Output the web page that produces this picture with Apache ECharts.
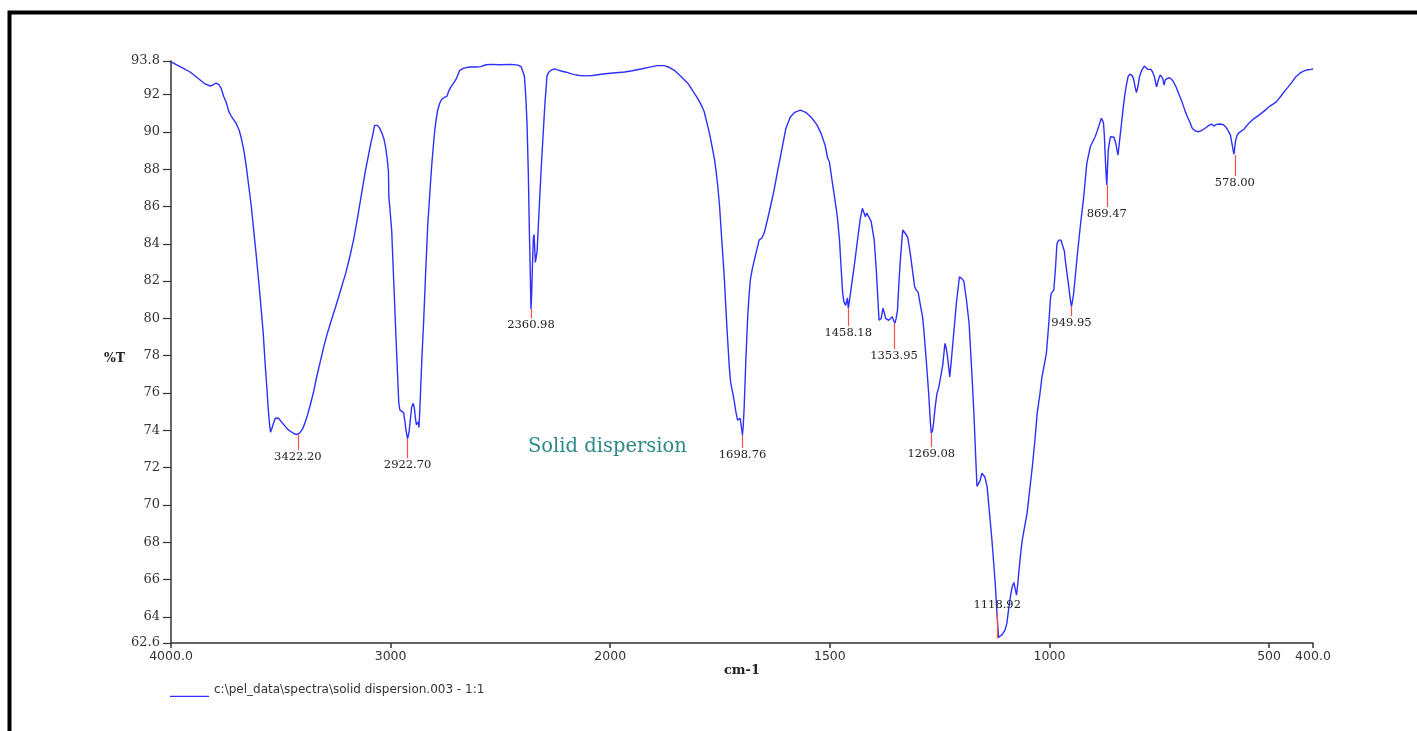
<!DOCTYPE html>
<html>
<head>
<meta charset="utf-8">
<script src="https://cdn.jsdelivr.net/npm/echarts@6/dist/echarts.min.js"></script>
<style>
html,body{margin:0;padding:0;background:#fff;}
#chart{width:1417px;height:731px;}
</style>
</head>
<body>
<div id="chart"></div>
<script>
// ---- data ----
const wavenumbers = [4000,3950,3913,3880,3845,3822,3808,3795,3783,3772,3760,3749,3737,3726,3712,3703,3690,3680,3668,3658,3646,3635,3624,3612,3600,3589,3580,3571,3563,3557,3551,3547,3542,3534,3525,3518,3510,3502,3490,3479,3468,3457,3440,3425,3415,3402,3390,3379,3365,3352,3336,3320,3304,3288,3270,3251,3228,3205,3188,3169,3152,3137,3125,3114,3100,3090,3082,3073,3068,3060,3050,3040,3030,3023,3016,3010,3008,3004,3000,2995,2990,2986,2977,2968,2963,2958,2950,2941,2935,2930,2923,2916,2910,2904,2897,2892,2886,2882,2878,2874,2871,2867,2862,2857,2849,2840,2831,2822,2813,2805,2799,2792,2786,2776,2767,2755,2744,2735,2726,2714,2703,2694,2685,2667,2640,2610,2590,2566,2540,2500,2450,2420,2406,2400,2391,2385,2379,2373,2368,2364,2361,2358,2354,2350,2347,2344,2341,2338,2333,2328,2323,2315,2307,2298,2288,2280,2270,2255,2240,2220,2200,2180,2163,2140,2110,2080,2041,2000,1967,1950,1930,1910,1892,1877,1865,1854,1840,1823,1812,1801,1794,1786,1780,1774,1768,1763,1759,1755,1751,1748,1744,1740,1737,1734,1731,1729,1726,1724,1721,1718,1714,1710,1706,1704,1701,1699,1697,1695,1693,1691,1689,1687,1684,1681,1677,1672,1666,1661,1655,1650,1646,1637,1627,1619,1611,1600,1590,1580,1567,1555,1543,1530,1520,1511,1505,1501,1494,1488,1483,1478,1475,1471,1468,1464,1460,1458,1455,1451,1444,1437,1431,1426,1422,1419,1416,1413,1406,1399,1394,1388,1383,1379,1376,1373,1366,1362,1358,1355,1352,1349,1346,1343,1340,1336,1334,1330,1323,1317,1312,1307,1303,1299,1293,1289,1286,1280,1275,1271,1269,1266,1264,1260,1256,1252,1248,1243,1238,1235,1233,1229,1227,1224,1218,1212,1205,1200,1195,1189,1183,1177,1172,1168,1165,1162,1158,1154,1151,1147,1142,1137,1131,1127,1123,1119,1116,1113,1110,1106,1101,1097,1093,1089,1085,1081,1078,1075,1072,1070,1066,1062,1056,1051,1045,1039,1033,1028,1022,1017,1012,1007,1004,1001,998,996,990,986,983,979,974,970,966,964,960,956,953,950,947,945,941,937,930,922,915,907,900,896,892,888,882,879,877,875,873,871,869.5,868,866,863,861,857,853,849,846,844,840,836,832,829,825,821,817,814,811,808,805,802,798,795,790,784,780,776,772,769,765,761,758,756,752,748,745,742,739,736,734,729,724,718,712,705,697,691,686,680,675,668,660,652,644,637,631,626,620,610,604,599,593,588,584,580,578,576,573,570,563,557,552,546,535,523,512,500,490,483,472,462,450,439,431,424,414,405,400];
const transmittance = [93.75,93.45,93.21,92.9,92.57,92.46,92.52,92.62,92.55,92.35,91.9,91.6,91.1,90.85,90.6,90.45,90.1,89.67,89.0,88.22,87.1,86.08,84.8,83.4,81.9,80.45,79.2,77.5,76.2,75.1,74.3,73.9,74.05,74.35,74.65,74.7,74.65,74.55,74.35,74.2,74.05,73.95,73.82,73.78,73.85,74.05,74.4,74.8,75.4,76.0,76.9,77.7,78.5,79.2,79.9,80.6,81.5,82.4,83.2,84.2,85.3,86.35,87.2,87.96,88.8,89.4,89.8,90.35,90.42,90.35,90.2,89.95,89.6,89.2,88.6,87.9,86.5,86.0,86.0,84.7,83.2,82.06,79.4,76.9,75.5,75.1,75.0,74.95,74.5,74.0,73.55,73.9,74.6,75.25,75.45,75.2,74.55,74.3,74.4,74.45,74.15,75.1,76.6,78.0,80.0,82.6,85.0,86.6,88.2,89.3,90.1,90.7,91.15,91.55,91.75,91.85,91.9,92.2,92.4,92.6,92.8,93.05,93.3,93.42,93.48,93.48,93.5,93.6,93.62,93.6,93.62,93.58,93.5,93.3,93.0,92.0,90.5,87.8,84.6,82.4,80.5,81.2,82.9,84.3,84.5,83.8,83.0,83.1,83.6,84.8,86.0,87.9,89.56,91.4,93.0,93.2,93.3,93.38,93.32,93.25,93.2,93.12,93.07,93.02,93.0,93.02,93.09,93.14,93.21,93.28,93.37,93.47,93.55,93.55,93.45,93.3,93.0,92.6,92.2,91.8,91.5,91.08,90.5,89.92,89.2,88.58,87.9,87.06,86.0,84.9,83.5,82.06,80.7,79.38,78.2,77.4,76.6,76.34,76.0,75.6,75.0,74.55,74.5,74.64,74.1,73.75,74.3,75.26,76.6,77.9,79.0,80.1,81.2,82.06,82.6,83.13,83.7,84.2,84.3,84.55,84.9,85.8,86.88,87.9,88.85,90.2,90.8,91.05,91.17,91.05,90.8,90.4,89.92,89.3,88.6,88.4,87.24,86.3,85.45,84.2,82.97,81.4,80.9,80.7,81.1,80.55,81.0,81.7,82.9,84.2,85.3,85.9,85.8,85.45,85.65,85.6,85.2,84.2,82.5,79.9,80.0,80.55,80.3,80.0,79.9,80.0,80.09,79.9,79.74,80.0,80.45,81.8,82.95,84.2,84.74,84.65,84.38,83.5,82.6,81.7,81.52,81.4,80.6,80.1,79.38,77.6,75.98,74.4,73.84,74.0,74.37,75.3,75.98,76.3,76.34,77.5,78.66,78.4,78.13,77.3,76.87,77.6,79.2,80.8,82.23,82.15,82.0,81.0,79.74,77.2,74.91,72.6,71.0,70.9,71.3,71.7,71.78,71.5,70.98,69.7,68.12,66.9,65.61,64.0,62.9,62.85,63.0,63.11,63.3,63.65,64.4,65.07,65.6,65.85,65.5,65.17,65.8,66.33,67.3,68.12,68.9,69.55,70.8,72.05,73.5,74.91,75.9,76.87,77.5,78.13,79.0,79.9,81.0,81.34,81.52,82.8,84.0,84.2,84.2,84.1,83.6,83.13,82.4,81.7,81.1,80.63,81.0,81.34,82.3,83.3,84.9,86.52,88.31,89.2,89.55,89.74,90.0,90.28,90.73,90.6,90.46,89.8,88.67,87.7,87.15,88.0,89.03,89.5,89.74,89.8,89.71,89.39,89.0,88.76,89.6,90.46,91.3,91.89,92.5,92.96,93.1,93.14,93.0,92.78,92.4,92.1,92.5,92.96,93.3,93.53,93.5,93.35,93.4,93.35,93.2,92.96,92.6,92.42,92.8,93.05,93.0,92.87,92.51,92.8,92.87,92.9,92.87,92.7,92.42,92.0,91.53,91.1,90.81,90.5,90.19,90.05,90.01,90.1,90.22,90.35,90.42,90.31,90.4,90.42,90.38,90.28,90.05,89.83,89.3,88.8,88.76,89.56,89.8,89.92,90.05,90.14,90.3,90.46,90.7,90.9,91.1,91.35,91.5,91.62,91.95,92.25,92.6,92.96,93.12,93.23,93.32,93.35,93.37];

const peakWavenumbers = [3422.20, 2922.70, 2360.98, 1698.76, 1458.18, 1353.95, 1269.08, 1118.92, 949.95, 869.47, 578.00];
const peakMinT        = [73.78, 73.55, 80.5, 73.75, 80.55, 79.74, 73.84, 62.85, 80.63, 87.15, 88.76];
const peakTipT        = [72.94, 72.51, 80.0, 73.05, 79.59, 78.36, 73.1, 64.25, 80.13, 85.97, 87.63];

const xTickValues = [4000, 3000, 2000, 1500, 1000, 500, 400];
const xTickLabels = ['4000.0', '3000', '2000', '1500', '1000', '500', '400.0'];
const yTickValues = [62.6, 64, 66, 68, 70, 72, 74, 76, 78, 80, 82, 84, 86, 88, 90, 92, 93.8];
const yTickLabels = ['62.6', '64', '66', '68', '70', '72', '74', '76', '78', '80', '82', '84', '86', '88', '90', '92', '93.8'];

const seriesName = 'c:\\pel_data\\spectra\\solid dispersion.003 - 1:1';
const annotationText = 'Solid dispersion';

// The instrument plots 4000-2000 cm-1 at half the scale of 2000-400 cm-1.
function toAxis(w) { return w <= 2000 ? w : 2000 + (w - 2000) / 2; }

const xTickPos = xTickValues.map(toAxis);
const lineData = wavenumbers.map((w, i) => [toAxis(w), transmittance[i]]);
const peakLines = peakWavenumbers.map((w, i) => {
  const name = w.toFixed(2);
  return [
    { name: name, coord: [toAxis(w), peakMinT[i]] },
    { name: name, coord: [toAxis(w), peakTipT[i]] }
  ];
});

const chart = echarts.init(document.getElementById('chart'), null, { renderer: 'canvas' });
chart.setOption({
  backgroundColor: '#ffffff',
  animation: false,
  title: {
    text: annotationText,
    left: 528, top: 437, padding: 0,
    textStyle: { fontFamily: 'DejaVu Serif', fontSize: 19.5, fontWeight: 'normal', color: '#2e8a8a' }
  },
  legend: {
    left: 170, top: 683, padding: 0,
    icon: 'path://M0,0 L0.05,0 L0.05,0.05 L0,0.05 Z M0,12.8 L39,12.8 L39,14 L0,14 Z',
    itemWidth: 39, itemHeight: 14,
    data: [seriesName],
    textStyle: { fontFamily: 'DejaVu Sans', fontSize: 12, color: '#333' }
  },
  grid: { left: 171, right: 104, top: 61, bottom: 88 },
  xAxis: {
    type: 'value', inverse: true, min: 400, max: 3000,
    name: 'cm-1', nameLocation: 'middle', nameGap: 21, nameMoveOverlap: false,
    nameTextStyle: { fontFamily: 'DejaVu Serif', fontWeight: 'bold', fontSize: 13, color: '#222', verticalAlign: 'top' },
    axisLine: { show: true, onZero: false, lineStyle: { color: '#333', width: 1.5 } },
    axisTick: { show: true, length: 5, customValues: xTickPos, lineStyle: { color: '#333', width: 1.5 } },
    axisLabel: {
      customValues: xTickPos, margin: 7,
      fontFamily: 'DejaVu Sans', fontSize: 12.5, color: '#333',
      formatter: function (v) {
        const i = xTickPos.findIndex(p => Math.abs(p - v) < 1e-6);
        return i >= 0 ? xTickLabels[i] : '';
      }
    },
    splitLine: { show: false }
  },
  yAxis: {
    type: 'value', min: 62.6, max: 93.8,
    name: '%T', nameLocation: 'middle', nameRotate: 0, nameGap: 44,
    nameTextStyle: { fontFamily: 'DejaVu Serif', fontWeight: 'bold', fontSize: 12.5, color: '#222', verticalAlign: 'top' },
    axisLine: { show: true, onZero: false, lineStyle: { color: '#333', width: 1.5 } },
    axisTick: { show: true, length: 8, customValues: yTickValues, lineStyle: { color: '#333', width: 1.2 } },
    axisLabel: {
      customValues: yTickValues, margin: 11,
      fontFamily: 'DejaVu Serif', fontSize: 13, color: '#333',
      formatter: function (v) {
        const i = yTickValues.findIndex(p => Math.abs(p - v) < 1e-6);
        return i >= 0 ? yTickLabels[i] : '';
      }
    },
    splitLine: { show: false }
  },
  series: [{
    name: seriesName,
    type: 'line',
    data: lineData,
    showSymbol: false,
    symbol: 'none',
    smooth: false,
    lineStyle: { color: '#2f2fff', width: 1.4 },
    itemStyle: { color: '#2f2fff' },
    markLine: {
      silent: true,
      symbol: ['none', 'none'],
      lineStyle: { color: '#ff4d4d', width: 1.2, type: 'solid' },
      label: {
        show: true, position: 'end', distance: 1,
        fontFamily: 'DejaVu Serif', fontSize: 11.5, color: '#222',
        formatter: function (p) { return p.name; }
      },
      emphasis: { disabled: true },
      data: peakLines
    }
  }],
  graphic: [{
    type: 'rect',
    shape: { x: 9.5, y: 12.5, width: 1500, height: 800 },
    style: { fill: 'none', stroke: '#000', lineWidth: 4 },
    silent: true
  }]
});
</script>
</body>
</html>
